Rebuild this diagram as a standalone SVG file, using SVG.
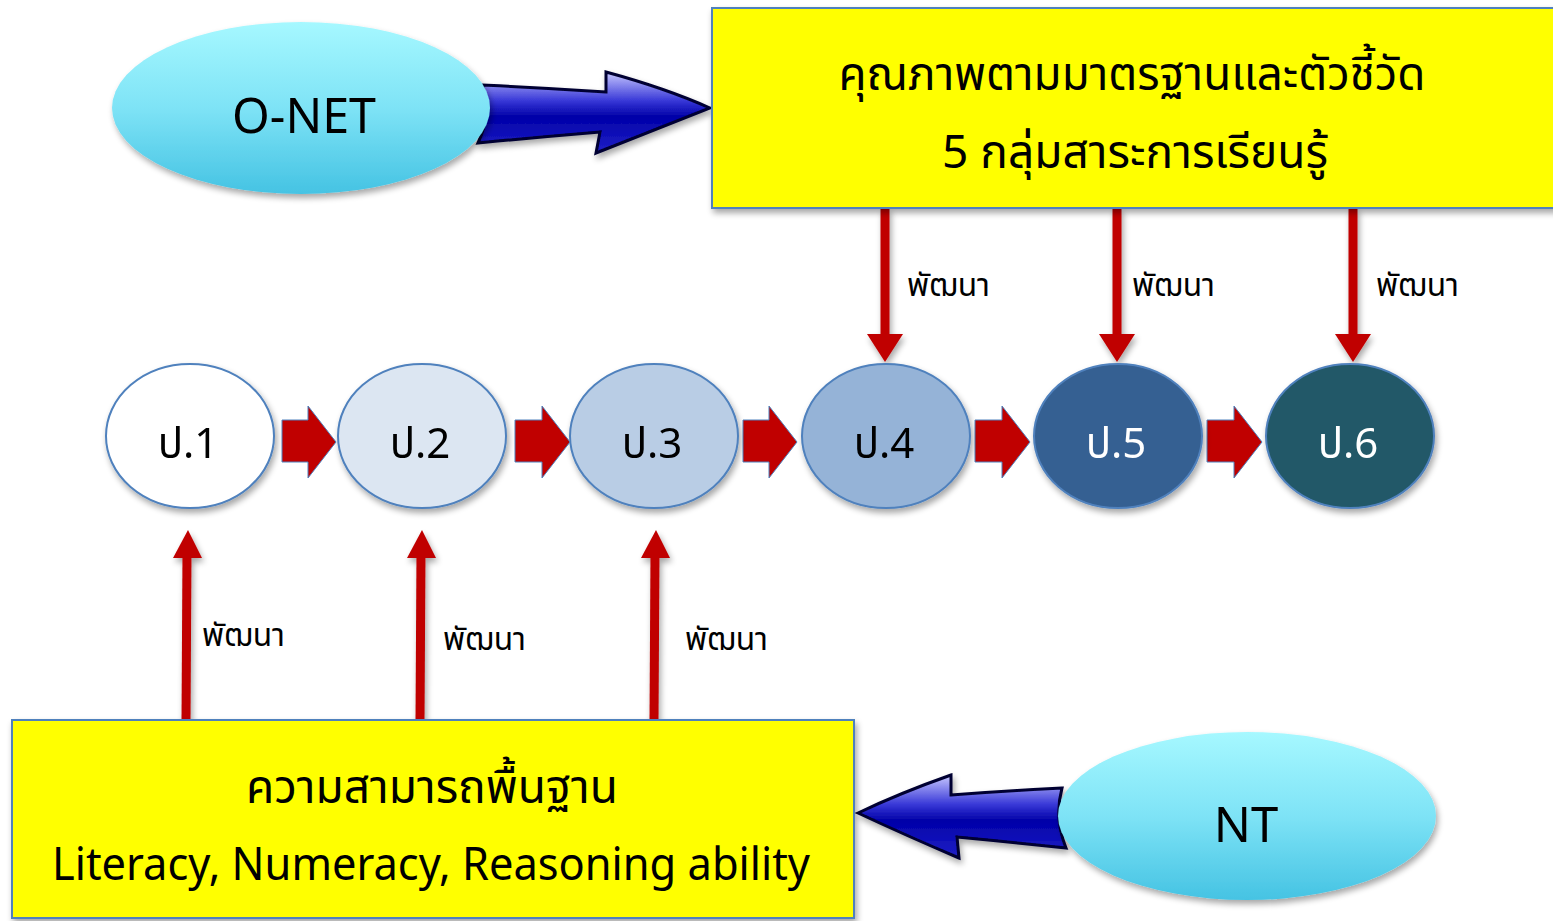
<svg xmlns="http://www.w3.org/2000/svg" width="1553" height="921" viewBox="0 0 1553 921">
<defs>
  <linearGradient id="cyan" x1="0" y1="0" x2="0" y2="1">
    <stop offset="0" stop-color="#a6f8ff"/>
    <stop offset="0.5" stop-color="#7ee3f6"/>
    <stop offset="1" stop-color="#45c3e3"/>
  </linearGradient>
  <linearGradient id="blueR" x1="0" y1="0" x2="0" y2="1">
    <stop offset="0" stop-color="#c8c8ff"/>
    <stop offset="0.35" stop-color="#3a3ad8"/>
    <stop offset="0.55" stop-color="#0000a8"/>
    <stop offset="1" stop-color="#2020c8"/>
  </linearGradient>
  <filter id="sh" x="-10%" y="-10%" width="130%" height="130%">
    <feGaussianBlur in="SourceAlpha" stdDeviation="3"/>
    <feOffset dx="2" dy="4"/>
    <feComponentTransfer><feFuncA type="linear" slope="0.35"/></feComponentTransfer>
    <feMerge><feMergeNode/><feMergeNode in="SourceGraphic"/></feMerge>
  </filter>
</defs>
<style>
  .t { font-family: "Noto Sans", "Noto Sans Thai", "DejaVu Sans", sans-serif; fill: #000; }
  .box { fill: #ffff00; stroke: #4f81bd; stroke-width: 2; }
  .circ { stroke: #4f81bd; stroke-width: 2; }
  .conn { stroke: #c00000; stroke-width: 9; fill: none; }
  .harr { fill: #c00000; stroke: #4f81bd; stroke-width: 1; }
  .lbl { font-size: 32px; }
  .ptxt { font-size: 42px; text-anchor: middle; }
  .big { font-size: 46px; text-anchor: middle; }
</style>

<g id="connectors">
  <!-- horizontal flow arrows -->
  <path class="harr" d="M282,420 L308,420 L308,406 L336,442 L308,478 L308,462 L282,462 Z"/>
  <path class="harr" d="M515,420 L542,420 L542,406 L570,442 L542,478 L542,462 L515,462 Z"/>
  <path class="harr" d="M743,420 L769,420 L769,406 L797,442 L769,478 L769,462 L743,462 Z"/>
  <path class="harr" d="M975,420 L1002,420 L1002,406 L1030,442 L1002,478 L1002,462 L975,462 Z"/>
  <path class="harr" d="M1207,420 L1234,420 L1234,406 L1262,442 L1234,478 L1234,462 L1207,462 Z"/>
  <!-- vertical develop arrows -->
  <g filter="url(#sh)">
    <line class="conn" x1="885" y1="208" x2="885" y2="340"/>
    <path d="M867,334 L903,334 L885,362 Z" fill="#c00000"/>
    <line class="conn" x1="1117" y1="208" x2="1117" y2="340"/>
    <path d="M1099,334 L1135,334 L1117,362 Z" fill="#c00000"/>
    <line class="conn" x1="1353" y1="208" x2="1353" y2="340"/>
    <path d="M1335,334 L1371,334 L1353,362 Z" fill="#c00000"/>
    <line class="conn" x1="186" y1="720" x2="187" y2="552"/>
    <path d="M173,558 L202,558 L188,530 Z" fill="#c00000"/>
    <line class="conn" x1="420" y1="720" x2="421" y2="552"/>
    <path d="M407,558 L436,558 L422,530 Z" fill="#c00000"/>
    <line class="conn" x1="654" y1="720" x2="655" y2="552"/>
    <path d="M641,558 L670,558 L656,530 Z" fill="#c00000"/>
  </g>
  <text class="t lbl" x="907" y="296" textLength="83" lengthAdjust="spacingAndGlyphs">พัฒนา</text>
  <text class="t lbl" x="1132" y="296" textLength="83" lengthAdjust="spacingAndGlyphs">พัฒนา</text>
  <text class="t lbl" x="1376" y="296" textLength="83" lengthAdjust="spacingAndGlyphs">พัฒนา</text>
  <text class="t lbl" x="202" y="646" textLength="83" lengthAdjust="spacingAndGlyphs">พัฒนา</text>
  <text class="t lbl" x="443" y="650" textLength="83" lengthAdjust="spacingAndGlyphs">พัฒนา</text>
  <text class="t lbl" x="685" y="650" textLength="83" lengthAdjust="spacingAndGlyphs">พัฒนา</text>
  <!-- blue arrows -->
  <path filter="url(#sh)" d="M482,85 Q545,88 606,92 L606,72 Q665,88 710,108 Q660,128 596,153 L600,132 Q540,137 478,143 Q492,114 482,85 Z" fill="url(#blueR)" stroke="#000033" stroke-width="3"/>
  <path filter="url(#sh)" d="M1062,788 Q1005,791 951,795 L951,775 Q900,793 858,813 Q905,835 959,858 L957,837 Q1010,842 1066,848 Q1054,818 1062,788 Z" fill="url(#blueR)" stroke="#000033" stroke-width="3"/>
</g>

<g id="onet" filter="url(#sh)">
  <ellipse cx="301" cy="108" rx="189" ry="86" fill="url(#cyan)"/>
  <text class="t" x="304" y="133" font-size="49" text-anchor="middle" textLength="144" lengthAdjust="spacingAndGlyphs">O-NET</text>
</g>

<g id="nt" filter="url(#sh)">
  <ellipse cx="1247" cy="816" rx="189" ry="84" fill="url(#cyan)"/>
  <text class="t" x="1246" y="842" font-size="49" text-anchor="middle">NT</text>
</g>

<g id="quality">
  <rect class="box" x="712" y="8" width="850" height="200" filter="url(#sh)"/>
  <text class="t big" x="1132" y="90" textLength="587" lengthAdjust="spacingAndGlyphs">คุณภาพตามมาตรฐานและตัวชี้วัด</text>
  <text class="t big" x="1135" y="168" textLength="386" lengthAdjust="spacingAndGlyphs">5 กลุ่มสาระการเรียนรู้</text>
</g>

<g id="basic">
  <rect class="box" x="12" y="720" width="842" height="198" filter="url(#sh)"/>
  <text class="t big" x="432" y="803" textLength="372" lengthAdjust="spacingAndGlyphs">ความสามารถพื้นฐาน</text>
  <text class="t big" x="431" y="880" textLength="758" lengthAdjust="spacingAndGlyphs">Literacy, Numeracy, Reasoning ability</text>
</g>

<g id="p1" filter="url(#sh)">
  <ellipse class="circ" cx="190" cy="436" rx="84" ry="72" fill="#ffffff"/>
  <text class="t ptxt" x="188" y="458">ป.1</text>
</g>
<g id="p2" filter="url(#sh)">
  <ellipse class="circ" cx="422" cy="436" rx="84" ry="72" fill="#dce6f2"/>
  <text class="t ptxt" x="420" y="458">ป.2</text>
</g>
<g id="p3" filter="url(#sh)">
  <ellipse class="circ" cx="654" cy="436" rx="84" ry="72" fill="#b9cde5"/>
  <text class="t ptxt" x="652" y="458">ป.3</text>
</g>
<g id="p4" filter="url(#sh)">
  <ellipse class="circ" cx="886" cy="436" rx="84" ry="72" fill="#95b3d7"/>
  <text class="t ptxt" x="884" y="458">ป.4</text>
</g>
<g id="p5" filter="url(#sh)">
  <ellipse class="circ" cx="1118" cy="436" rx="84" ry="72" fill="#366092"/>
  <text class="t ptxt" x="1116" y="458" style="fill:#ffffff">ป.5</text>
</g>
<g id="p6" filter="url(#sh)">
  <ellipse class="circ" cx="1350" cy="436" rx="84" ry="72" fill="#215968"/>
  <text class="t ptxt" x="1348" y="458" style="fill:#ffffff">ป.6</text>
</g>
</svg>
